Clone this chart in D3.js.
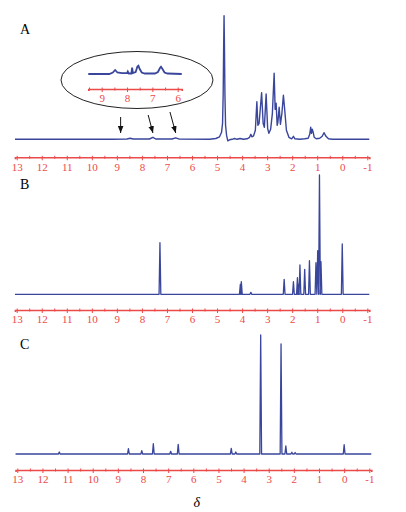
<!DOCTYPE html>
<html>
<head>
<meta charset="utf-8">
<script src="https://cdn.jsdelivr.net/npm/d3@7"></script>
<style>
  body { margin: 0; background: #fff; }
  svg { display: block; }
</style>
</head>
<body>
<svg width="406" height="512"></svg>
<script>
// spectrum A trace: [delta ppm, intensity]
var traceA = [
  [13.07, 0], [9.2, 0], [8.6, 0.3], [8.47, 1], [8.35, 0.3], [7.7, 0.3], [7.56, 2], [7.45, 0.3],
  [6.8, 0.3], [6.65, 1.5], [6.5, 0.2], [5.3, 0], [5.05, 0.8], [4.9, 2.5], [4.82, 7], [4.78, 16],
  [4.755, 45], [4.735, 95], [4.72, 123.6], [4.705, 95], [4.685, 45], [4.66, 14], [4.62, 4],
  [4.57, -1.5], [4.5, -0.5], [4.4, 0], [4.3, 0.8], [4.2, 0], [4.08, 0.8], [3.95, 0], [3.8, 0.5],
  [3.7, 2], [3.65, 5], [3.61, 2.5], [3.54, 3.5], [3.47, 9], [3.41, 37.6], [3.37, 14], [3.32, 16],
  [3.22, 46.6], [3.16, 16], [3.11, 12], [3.04, 45.3], [2.98, 11], [2.93, 6], [2.86, 10],
  [2.79, 26], [2.72, 66], [2.68, 30], [2.64, 36], [2.6, 14], [2.57, 17], [2.52, 32], [2.47, 15],
  [2.41, 26], [2.35, 44], [2.3, 30], [2.23, 9], [2.13, 2], [2.02, 0.5], [1.95, 3], [1.89, 0.5],
  [1.7, 0], [1.5, 0.5], [1.36, 1], [1.3, 5], [1.26, 12], [1.23, 6], [1.2, 10], [1.16, 7],
  [1.12, 2], [1.04, 0.5], [0.9, 1], [0.8, 3], [0.73, 6.6], [0.65, 3], [0.55, 0.5], [0.4, 0],
  [-1.08, 0]
];

// inset of A, 9.5 - 5.8 ppm
var traceInset = [
  [9.53, 0], [8.7, 0], [8.56, 1.5], [8.47, 4], [8.38, 1.5], [8.2, 0.8], [8.0, 0.8], [7.97, 2.5],
  [7.93, 0.5], [7.83, 0.5], [7.8, 6.3], [7.77, 1], [7.66, 2], [7.59, 7.5], [7.55, 8.3], [7.5, 5],
  [7.42, 1.5], [7.3, 0.5], [6.9, 0.5], [6.78, 2], [6.7, 6], [6.66, 7.3], [6.6, 5], [6.52, 1.5],
  [6.4, 0.5], [5.84, 0]
];

// stick peaks: [delta, intensity]
var peaksB = [
  [7.28, 51.6], [4.07, 10], [4.03, 12.6], [3.65, 2], [2.32, 15], [1.95, 12.6], [1.79, 16.6],
  [1.75, 10], [1.69, 29.3], [1.5, 25], [1.31, 33.6], [1.05, 31.6], [0.98, 43.6], [0.91, 119.3],
  [0.85, 32.6], [0.0, 50.3]
];
var peaksC = [
  [11.33, 2], [8.58, 5.3], [8.05, 3.3], [7.59, 10.3], [6.9, 2.7], [6.6, 9.7], [4.49, 5.7],
  [4.31, 2], [3.32, 119], [2.51, 110], [2.32, 8], [2.08, 1.7], [1.95, 1.5], [0.0, 9.3]
];

var majorTicks = d3.range(13, -2, -1);
var minorTicks = d3.range(12.5, -1, -1);
var insetMajor = [9, 8, 7, 6];
var insetMinor = [9.5, 8.5, 7.5, 6.5];

var lineColor = "#3a469c", axisColor = "#ec4a48";
var svg = d3.select("svg");
svg.append("rect").attr("width", 406).attr("height", 512).attr("fill", "#fff");

function sticks(peaks, w) {
  var pts = [[13.07, 0]];
  peaks.forEach(function(p) {
    pts.push([p[0] + w, 0], [p[0], p[1]], [p[0] - w, 0]);
  });
  pts.push([-1.08, 0]);
  return pts;
}

function drawAxis(x, y, majors, minors) {
  var g = svg.append("g").attr("transform", "translate(0," + y + ")");
  g.call(d3.axisBottom(x).tickValues(minors).tickSizeOuter(0).tickSize(2).tickFormat(""));
  g.selectAll(".tick line").attr("y1", -1.5).attr("y2", 1.5);
  g.select(".domain").attr("stroke", axisColor).attr("stroke-width", 1.6);
  var g2 = svg.append("g").attr("transform", "translate(0," + y + ")");
  g2.call(d3.axisBottom(x).tickValues(majors).tickSizeOuter(0).tickSize(3)
    .tickFormat(function(d) { return String(d); }));
  g2.select(".domain").remove();
  g2.selectAll(".tick line").attr("y1", -1.5).attr("y2", 3);
  svg.selectAll(".tick line").attr("stroke", axisColor).attr("stroke-width", 1);
  g2.selectAll(".tick text").attr("fill", axisColor).attr("font-size", 11)
    .attr("y", 5.5).attr("font-family", "Liberation Serif");
}

function drawPanel(pts, xr, base, axisY, label, sw) {
  // domain widened a little so the axis line runs past 13 and -1
  var x = d3.scaleLinear().domain([13, -1]).range(xr);
  var xAxisScale = d3.scaleLinear().domain([13.07, -1.08]).range([x(13.07), x(-1.08)]);
  var y = d3.scaleLinear().domain([0, 125]).range([base, base - 125]);
  var line = d3.line().x(function(d) { return x(d[0]); }).y(function(d) { return y(d[1]); });
  svg.append("path").datum(pts).attr("d", line).attr("fill", "none")
    .attr("stroke", lineColor).attr("stroke-width", sw).attr("stroke-linejoin", "round");
  drawAxis(xAxisScale, axisY, majorTicks, minorTicks);
  svg.append("text").attr("x", 20).attr("y", base - 105).text(label)
    .attr("font-family", "Liberation Serif").attr("font-size", 14);
  return x;
}

var xA = drawPanel(traceA, [16.7, 367.3], 139.3, 157.3, "A", 1.4);
drawPanel(sticks(peaksB, 0.035), [16.7, 367.3], 294.3, 310, "B", 1.3);
drawPanel(sticks(peaksC, 0.035), [17.3, 369.3], 454, 470, "C", 1.3);

// inset
svg.append("ellipse").attr("cx", 137).attr("cy", 80).attr("rx", 76).attr("ry", 28.5)
  .attr("fill", "none").attr("stroke", "#222").attr("stroke-width", 1);
var xi = d3.scaleLinear().domain([9, 6]).range([101.7, 177.7]);
var yi = d3.scaleLinear().domain([0, 10]).range([74, 64]);
svg.append("path").datum(traceInset)
  .attr("d", d3.line().x(function(d) { return xi(d[0]); }).y(function(d) { return yi(d[1]); }))
  .attr("fill", "none").attr("stroke", lineColor).attr("stroke-width", 1.8);
var xiAxis = d3.scaleLinear().domain([9.53, 5.84]).range([xi(9.53), xi(5.84)]);
drawAxis(xiAxis, 89, insetMajor, insetMinor);

// arrows
svg.append("defs").append("marker")
  .attr("id", "arr").attr("viewBox", "0 -5 10 10").attr("refX", 10).attr("refY", 0)
  .attr("markerWidth", 7).attr("markerHeight", 7).attr("markerUnits", "userSpaceOnUse")
  .attr("orient", "auto")
  .append("path").attr("d", "M0,-4L10,0L0,4Z").attr("fill", "#111");
var arrows = [[8.85, 8.85, 117], [7.75, 7.56, 115], [6.88, 6.65, 112]];
arrows.forEach(function(a) {
  svg.append("line").attr("x1", xA(a[0])).attr("x2", xA(a[1]))
    .attr("y1", a[2]).attr("y2", 133)
    .attr("stroke", "#111").attr("stroke-width", 1).attr("marker-end", "url(#arr)");
});

svg.append("text").attr("x", 196.7).attr("y", 507).attr("text-anchor", "middle")
  .attr("font-family", "Liberation Serif").attr("font-style", "italic").attr("font-size", 14)
  .text("δ");
</script>
</body>
</html>
